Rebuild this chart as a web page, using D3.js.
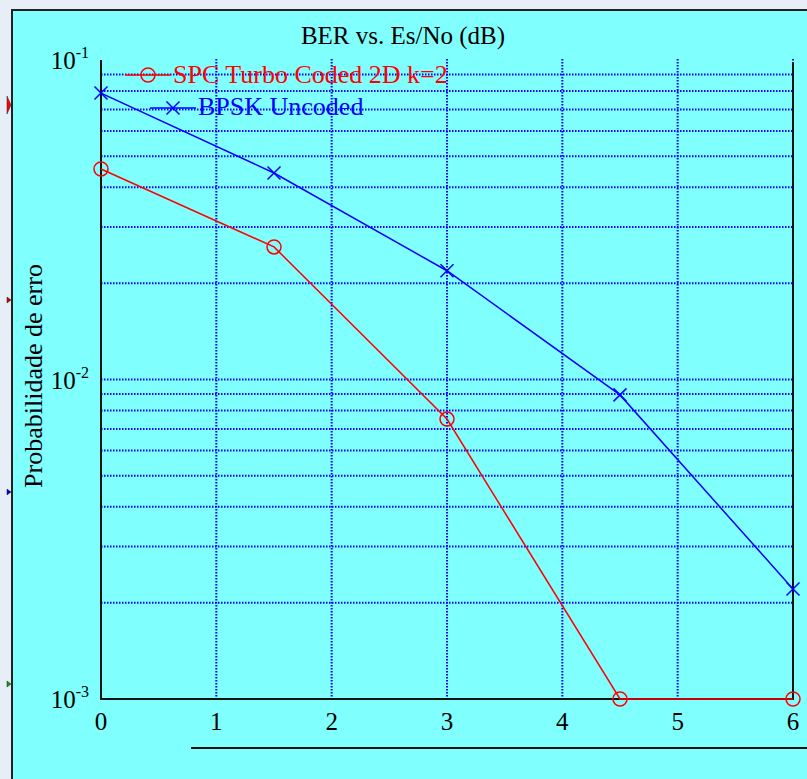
<!DOCTYPE html>
<html>
<head>
<meta charset="utf-8">
<script src="https://cdn.jsdelivr.net/npm/d3@7"></script>
<style>
  body { margin: 0; background: #e8eef8; }
  svg { display: block; }
  text { font-family: "Liberation Serif", "Times New Roman", serif; }
</style>
</head>
<body>
<svg width="807" height="779"></svg>
<script>
// data
var esNo = [0, 1.5, 3, 4.5, 6];
var spcBer = [0.0456, 0.0260, 0.00752, 0.001, 0.001];
var bpskBer = [0.0788, 0.0443, 0.0219, 0.00895, 0.00221];
var xTicks = [0, 1, 2, 3, 4, 5, 6];
var yDecades = [0.1, 0.01, 0.001];
var yExp = ["-1", "-2", "-3"];

var svg = d3.select("svg");

// cyan panel
svg.append("rect").attr("x", 11).attr("y", 10).attr("width", 796).attr("height", 769)
  .style("fill", "#80ffff");
svg.append("line").attr("x1", 11).attr("x2", 807).attr("y1", 10).attr("y2", 10)
  .style("stroke", "#222").style("stroke-width", 2);
svg.append("line").attr("x1", 12).attr("x2", 12).attr("y1", 10).attr("y2", 779)
  .style("stroke", "#222").style("stroke-width", 2);

// little side markers
var sideMarks = [{y: 105, c: "#ff0000", s: 9}, {y: 300, c: "#cc0000", s: 3}, {y: 492, c: "#0000cc", s: 3}, {y: 684, c: "#00aa00", s: 3}];
svg.selectAll(".side").data(sideMarks).enter().append("path")
  .attr("d", function(d) { return "M7," + (d.y - d.s) + "L11," + d.y + "L7," + (d.y + d.s) + "Z"; })
  .style("fill", function(d) { return d.c; }).style("stroke", "#222").style("stroke-width", 0.5);

var x = d3.scaleLinear().domain([0, 6]).range([101, 793]);
var y = d3.scaleLog().domain([0.001, 0.1]).range([699, 60]);

// grid
var yMinor = y.ticks().filter(function(v) { return v < 0.099; });
svg.selectAll(".hgrid").data(yMinor).enter().append("line")
  .attr("x1", x(0)).attr("x2", x(6))
  .attr("y1", function(d) { return y(d); }).attr("y2", function(d) { return y(d); })
  .style("stroke", "#0000ff").style("stroke-width", 2).style("stroke-dasharray", "1.5,1.5");
svg.selectAll(".vgrid").data(xTicks.slice(1)).enter().append("line")
  .attr("x1", function(d) { return x(d); }).attr("x2", function(d) { return x(d); })
  .attr("y1", 59).attr("y2", 699)
  .style("stroke", "#0000ff").style("stroke-width", 2).style("stroke-dasharray", "1.5,1.5");

// axes box (no top)
svg.append("path").attr("d", "M" + x(0) + ",60V" + y(0.001) + "H" + x(6) + "V62")
  .style("fill", "none").style("stroke", "#111").style("stroke-width", 2);

// tick labels
svg.selectAll(".xt").data(xTicks).enter().append("text")
  .attr("x", function(d) { return x(d); }).attr("y", 730)
  .attr("text-anchor", "middle").style("font-size", "25px").text(function(d) { return d; });

var yl = svg.selectAll(".yt").data(yDecades).enter().append("text")
  .attr("x", 89).attr("y", function(d) { return y(d) + 9; })
  .attr("text-anchor", "end").style("font-size", "25px");
yl.append("tspan").text("10");
yl.append("tspan").attr("dy", -11).style("font-size", "16px").text(function(d, i) { return yExp[i]; });

// title and y label
svg.append("text").attr("x", 403).attr("y", 44).attr("text-anchor", "middle")
  .style("font-size", "25px").text("BER vs. Es/No (dB)");
svg.append("text").attr("transform", "translate(42,376) rotate(-90)").attr("text-anchor", "middle")
  .style("font-size", "26px").text("Probabilidade de erro");

// bottom line
svg.append("line").attr("x1", 191).attr("x2", 807).attr("y1", 748).attr("y2", 748)
  .style("stroke", "#111").style("stroke-width", 2);

// series
var line = d3.line().x(function(d) { return x(d[0]); }).y(function(d) { return y(d[1]); });
var spcPts = d3.zip(esNo, spcBer);
var bpskPts = d3.zip(esNo, bpskBer);

svg.append("path").datum(spcPts).attr("d", line)
  .style("fill", "none").style("stroke", "#ff0000").style("stroke-width", 1.5);
svg.append("path").datum(bpskPts).attr("d", line)
  .style("fill", "none").style("stroke", "#0000ff").style("stroke-width", 1.5);

function cross(cx, cy, r) {
  return "M" + (cx - r) + "," + (cy - r) + "L" + (cx + r) + "," + (cy + r) +
    "M" + (cx - r) + "," + (cy + r) + "L" + (cx + r) + "," + (cy - r);
}

svg.selectAll(".spc").data(spcPts).enter().append("circle")
  .attr("cx", function(d) { return x(d[0]); }).attr("cy", function(d) { return y(d[1]); })
  .attr("r", 7).style("fill", "none").style("stroke", "#ff0000").style("stroke-width", 1.5);
svg.selectAll(".bpsk").data(bpskPts).enter().append("path")
  .attr("d", function(d) { return cross(x(d[0]), y(d[1]), 6.5); })
  .style("fill", "none").style("stroke", "#0000ff").style("stroke-width", 1.5);

// legend
var legend = [
  {name: "SPC Turbo Coded 2D k=2", color: "#ff0000", x0: 125, y0: 75, dy: 8, mark: "o"},
  {name: "BPSK Uncoded", color: "#0000ff", x0: 150, y0: 108, dy: 7, mark: "x"}
];
legend.forEach(function(l) {
  svg.append("line").attr("x1", l.x0).attr("x2", l.x0 + 46).attr("y1", l.y0).attr("y2", l.y0)
    .style("stroke", l.color).style("stroke-width", 1.5);
  if (l.mark == "o") {
    svg.append("circle").attr("cx", l.x0 + 23).attr("cy", l.y0).attr("r", 7)
      .style("fill", "none").style("stroke", l.color).style("stroke-width", 1.5);
  } else {
    svg.append("path").attr("d", cross(l.x0 + 23, l.y0, 6.5))
      .style("fill", "none").style("stroke", l.color).style("stroke-width", 1.5);
  }
  svg.append("text").attr("x", l.x0 + 48).attr("y", l.y0 + l.dy)
    .style("fill", l.color).style("font-size", "26px").text(l.name);
});
</script>
</body>
</html>
